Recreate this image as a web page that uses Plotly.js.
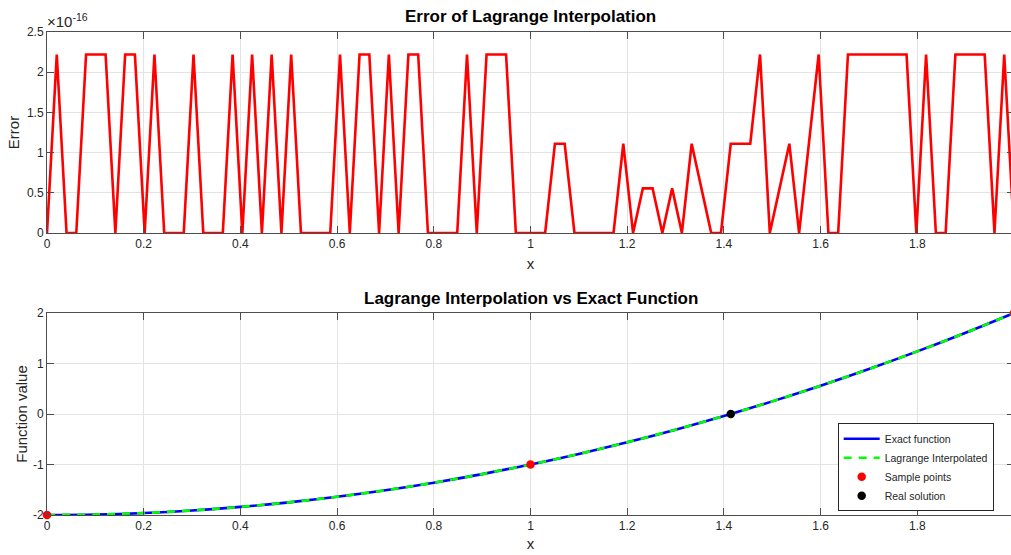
<!DOCTYPE html>
<html>
<head>
<meta charset="utf-8">
<script src="https://cdn.plot.ly/plotly-3.0.1.min.js"></script>
<style>
html,body{margin:0;padding:0;overflow:hidden;background:#fff;}
#chart{width:1030px;height:555px;}
</style>
</head>
<body>
<div id="chart"></div>
<script>
// ---- Top panel: error of Lagrange interpolation (units of 1e-16), 100 samples on [0,2]
const nSamples = 100;
const errorE16 = [
  0, 2.22, 0, 0, 2.22, 2.22, 2.22, 0, 2.22, 2.22,
  0, 2.22, 0, 0, 0, 2.22, 0, 0, 0, 2.22,
  0, 2.22, 0, 2.22, 0, 2.22, 0, 0, 0, 0,
  2.22, 0, 2.22, 2.22, 0, 2.22, 0, 2.22, 2.22, 0,
  0, 0, 0, 2.22, 0, 2.22, 2.22, 2.22, 0, 0,
  0, 0, 1.11, 1.11, 0, 0, 0, 0, 0, 1.11,
  0, 0.555, 0.555, 0, 0.555, 0, 1.11, 0.555, 0, 0,
  1.11, 1.11, 1.11, 2.22, 0, 0.555, 1.11, 0, 1.11, 2.22,
  0, 0, 2.22, 2.22, 2.22, 2.22, 2.22, 2.22, 2.22, 0,
  2.22, 0, 0, 2.22, 2.22, 2.22, 2.22, 0, 2.22, 0
];
const errorX = [];
for (let i = 0; i < nSamples; i++) errorX.push(2 * i / (nSamples - 1));

// ---- Bottom panel: exact function vs Lagrange interpolated
const curveX = [0, 0.1, 0.2, 0.3, 0.4, 0.5, 0.6, 0.7, 0.8, 0.9, 1.0,
                1.1, 1.2, 1.3, 1.4, 1.5, 1.6, 1.7, 1.8, 1.9, 2.0];
const exactY = [-2, -1.99, -1.96, -1.91, -1.84, -1.75, -1.64, -1.51, -1.36, -1.19, -1,
                -0.79, -0.56, -0.31, -0.04, 0.25, 0.56, 0.89, 1.24, 1.61, 2];
const lagrangeY = [-2, -1.99, -1.96, -1.91, -1.84, -1.75, -1.64, -1.51, -1.36, -1.19, -1,
                -0.79, -0.56, -0.31, -0.04, 0.25, 0.56, 0.89, 1.24, 1.61, 2];
const sampleX = [0, 1, 2];
const sampleY = [-2, -1, 2];
const rootX = [1.4142];
const rootY = [0];

const titles = ["Error of Lagrange Interpolation", "Lagrange Interpolation vs Exact Function"];
const legendNames = ["Exact function", "Lagrange Interpolated", "Sample points", "Real solution"];
const y2TickVals = [-2, -1, 0, 1, 2];
const y2TickText = ["-2", "-1", "0", "1", "2"];

const FONT = "Liberation Sans, Arial, Helvetica, sans-serif";
const AX = "#4d4d4d";
const GRID = "#e3e3e3";
const TXT = "#262626";

const traces = [
  {x: errorX, y: errorE16, type: "scatter", mode: "lines", xaxis: "x", yaxis: "y",
   line: {color: "#ff0000", width: 2.6}, showlegend: false, cliponaxis: true},
  {x: curveX, y: exactY, type: "scatter", mode: "lines", xaxis: "x2", yaxis: "y2",
   name: legendNames[0], line: {color: "#0000ff", width: 2.6, shape: "spline"}, cliponaxis: false},
  {x: curveX, y: lagrangeY, type: "scatter", mode: "lines", xaxis: "x2", yaxis: "y2",
   name: legendNames[1], line: {color: "#00ff00", width: 2.6, dash: "8px,7px", shape: "spline"}, cliponaxis: false},
  {x: sampleX, y: sampleY, type: "scatter", mode: "markers", xaxis: "x2", yaxis: "y2",
   name: legendNames[2], marker: {color: "#ff0000", size: 8.5}, cliponaxis: false},
  {x: rootX, y: rootY, type: "scatter", mode: "markers", xaxis: "x2", yaxis: "y2",
   name: legendNames[3], marker: {color: "#000000", size: 8.5}, cliponaxis: false}
];

function xax(anchor, standoff) {
  return {
    anchor: anchor, range: [0, 2], dtick: 0.2, tick0: 0,
    showline: true, linecolor: AX, linewidth: 1, mirror: "ticks",
    ticks: "inside", ticklen: 7, tickcolor: AX,
    showgrid: true, gridcolor: GRID, zeroline: false,
    tickfont: {family: FONT, size: 12, color: TXT},
    title: {text: "x", font: {family: FONT, size: 15, color: TXT}, standoff: standoff}
  };
}
function yax(anchor, domain, range, dtick, title, standoff) {
  return {
    anchor: anchor, domain: domain, range: range, dtick: dtick,
    showline: true, linecolor: AX, linewidth: 1, mirror: "ticks",
    ticks: "inside", ticklen: 7, tickcolor: AX,
    showgrid: true, gridcolor: GRID, zeroline: false,
    tickfont: {family: FONT, size: 12, color: TXT},
    title: {text: title, font: {family: FONT, size: 15, color: TXT}, standoff: standoff}
  };
}

const yaxis2 = yax("x2", [0, 0.4182], [-2, 2], 1, "Function value", 1);
yaxis2.tickmode = "array";
yaxis2.tickvals = y2TickVals;
yaxis2.ticktext = y2TickText;

const layout = {
  width: 1030, height: 555,
  margin: {l: 47, r: 16, t: 32, b: 40},
  paper_bgcolor: "#ffffff", plot_bgcolor: "#ffffff",
  font: {family: FONT, color: TXT},
  xaxis: xax("y", 8),
  yaxis: yax("x", [0.5839, 1], [0, 2.5], 0.5, "Error", 3),
  xaxis2: xax("y2", 6),
  yaxis2: yaxis2,
  showlegend: true,
  legend: {
    x: 0.979, y: 0.19, xanchor: "right", yanchor: "top",
    bgcolor: "#ffffff", bordercolor: "#262626", borderwidth: 1,
    font: {family: FONT, size: 10.5, color: TXT},
    itemwidth: 36, tracegroupgap: 0
  },
  annotations: [
    {text: "<b>" + titles[0] + "</b>", xref: "paper", yref: "paper", x: 0.5, y: 1, yshift: 16,
     xanchor: "center", yanchor: "middle", showarrow: false, font: {family: FONT, size: 17, color: "#000"}},
    {text: "<b>" + titles[1] + "</b>", xref: "paper", yref: "paper", x: 0.5, y: 0.4182, yshift: 15,
     xanchor: "center", yanchor: "middle", showarrow: false, font: {family: FONT, size: 17, color: "#000"}},
    {text: "×10<sup>-16</sup>", xref: "paper", yref: "paper", x: 0, y: 1, yshift: 12, xshift: -2,
     xanchor: "left", yanchor: "middle", showarrow: false, font: {family: FONT, size: 15, color: TXT}}
  ]
};

Plotly.newPlot("chart", traces, layout, {displayModeBar: false, staticPlot: true});
</script>
</body>
</html>
